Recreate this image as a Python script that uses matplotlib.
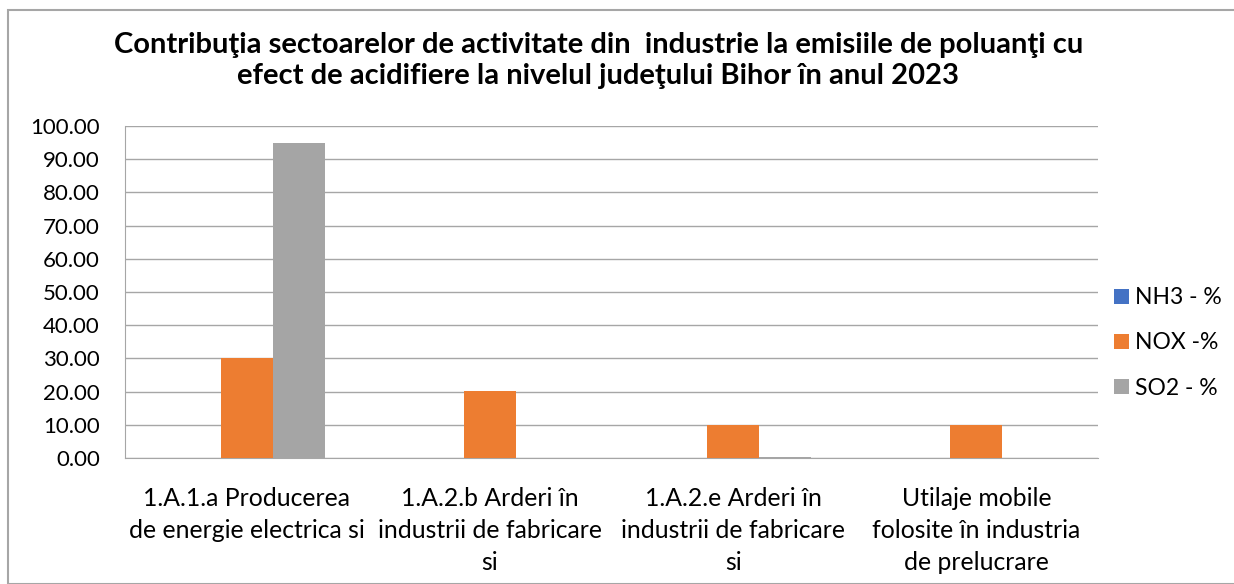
import numpy as np
import matplotlib.pyplot as plt
from matplotlib.patches import Rectangle

plt.rcParams['font.family'] = ['Lato', 'DejaVu Sans']

categories = ['1.A.1.a Producerea\nde energie electrica si',
              '1.A.2.b Arderi în\nindustrii de fabricare\nsi',
              '1.A.2.e Arderi în\nindustrii de fabricare\nsi',
              'Utilaje mobile\nfolosite în industria\nde prelucrare']
series_names = ['NH3 - %', 'NOX -%', 'SO2 - %']
nh3 = [0.0, 0.0, 0.0, 0.0]
nox = [30.0, 20.1, 9.9, 9.9]
so2 = [94.9, 0.0, 0.4, 0.0]
colors = ['#4472C4', '#ED7D31', '#A5A5A5']

fig = plt.figure(figsize=(12.34, 5.84), dpi=100)
ax = fig.add_axes([125/1234, 1-458/584, (1098-125)/1234, (458-126)/584])

x = np.arange(len(categories))
w = 0.214
for i, vals in enumerate([nh3, nox, so2]):
    ax.bar(x + (i-1)*w, vals, width=w, color=colors[i], label=series_names[i], zorder=3)

ax.set_xlim(-0.5, len(categories)-0.5)
ax.set_ylim(0, 100)
ax.set_yticks(np.arange(0, 101, 10))
ax.set_yticklabels(['%.2f' % v for v in np.arange(0, 101, 10)], fontsize=16)
ax.set_xticks(x)
ax.set_xticklabels(categories, fontsize=17.8, linespacing=1.48)
ax.tick_params(length=0)
ax.tick_params(axis='y', pad=18)
ax.tick_params(axis='x', pad=21)
ax.grid(axis='y', color='#a6a6a6', linewidth=1, zorder=0)
for s in ['top', 'right']:
    ax.spines[s].set_visible(False)
ax.spines['left'].set_color('#a6a6a6')
ax.spines['bottom'].set_color('#a6a6a6')

fig.text(0.485, 1-45/584, 'Contribuţia sectoarelor de activitate din  industrie la emisiile de poluanţi cu',
         ha='center', va='center', fontsize=21, fontweight='bold')
fig.text(0.485, 1-76/584, 'efect de acidifiere la nivelul judeţului Bihor în anul 2023',
         ha='center', va='center', fontsize=21, fontweight='bold')

ax.legend(loc='center left', bbox_to_anchor=(1093/1234, 1-343/584), bbox_transform=fig.transFigure,
          frameon=False, fontsize=16.5, handlelength=0.65, handleheight=0.65, labelspacing=1.05,
          handletextpad=0.3)

fig.patches.append(Rectangle((8/1234, 0), 1, 1-10/584, transform=fig.transFigure,
                             fill=False, edgecolor='#a6a6a6', linewidth=1.5))

fig.savefig('out.png', dpi=100)
